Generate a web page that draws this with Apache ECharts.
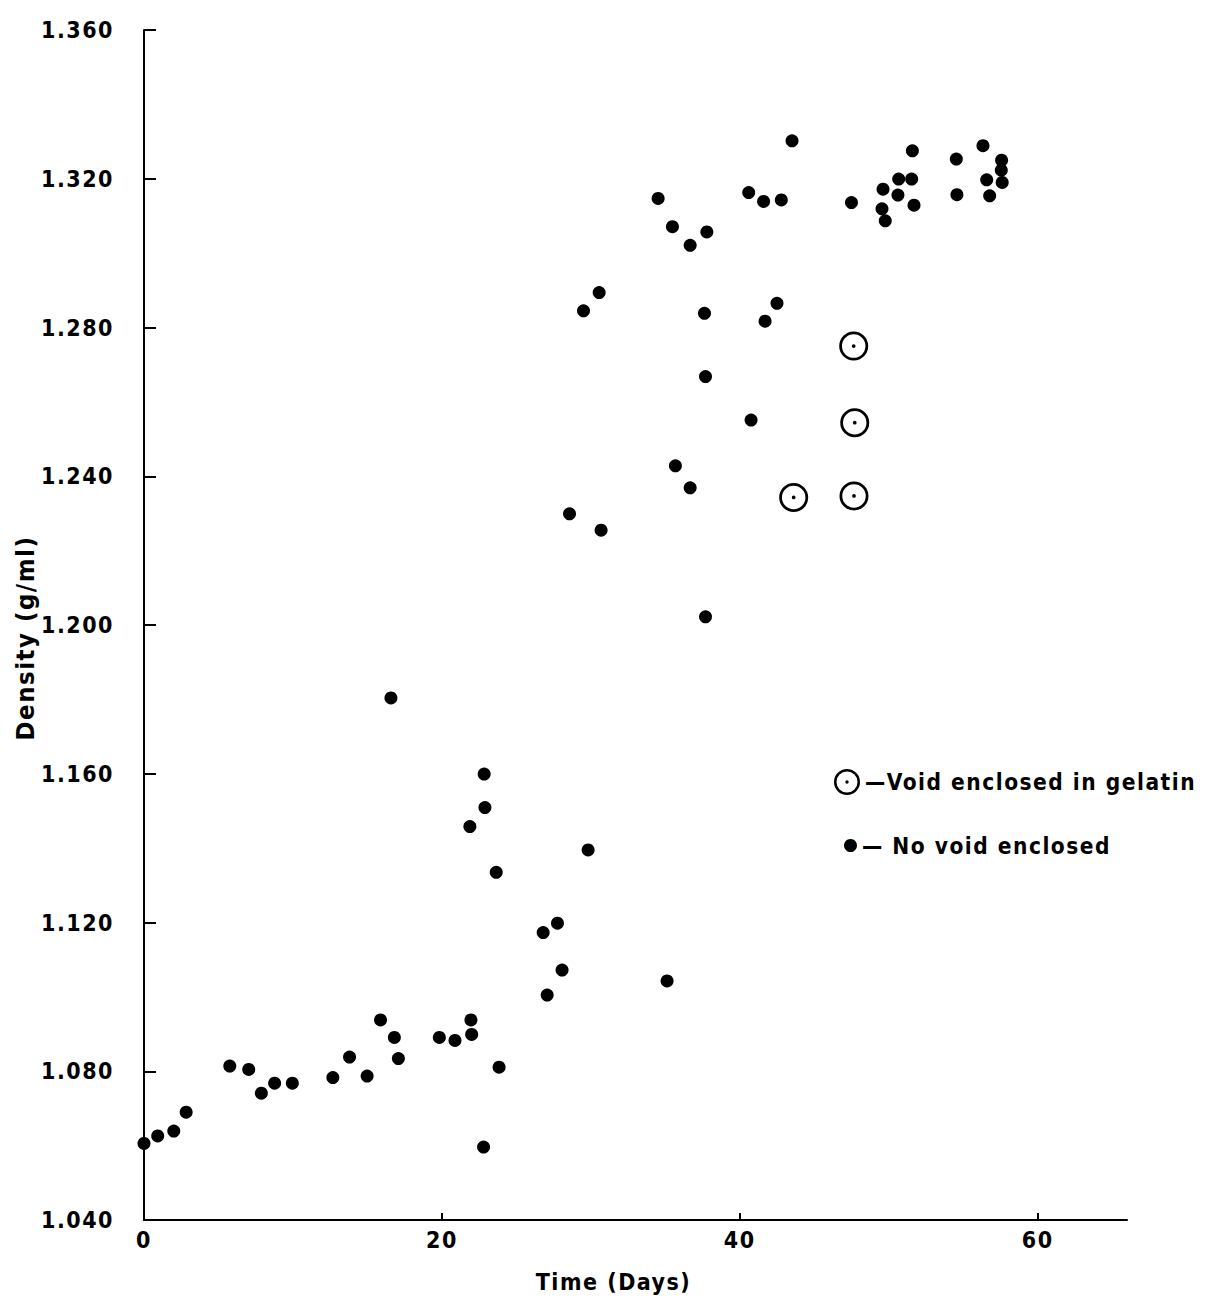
<!DOCTYPE html>
<html>
<head>
<meta charset="utf-8">
<script src="https://cdn.jsdelivr.net/npm/echarts@6/dist/echarts.min.js"></script>
<style>
  html, body { margin: 0; padding: 0; background: #fff; }
  #chart { width: 1208px; height: 1303px; letter-spacing: 1.5px; }
</style>
</head>
<body>
<div id="chart"></div>
<script>
// ---- data ----
const noVoidX = [0, 0.92, 2.0, 2.83, 5.76, 7.03, 7.88, 8.77, 9.96, 12.68, 13.8, 14.98, 15.88, 16.81, 17.08,
  16.58, 19.83, 20.88, 21.95, 22.0, 22.8, 23.84, 21.88, 22.84, 22.89, 23.65, 29.82, 27.76, 26.8, 28.07,
  27.07, 35.12, 28.57, 30.69, 29.51, 30.56, 34.52, 35.48, 36.67, 37.79, 37.63, 37.7, 37.7, 35.68, 36.67,
  40.76, 40.6, 41.6, 42.79, 43.51, 41.7, 42.5, 47.5, 49.62, 49.55, 49.77, 50.67, 50.62, 51.54, 51.59,
  51.7, 54.54, 54.58, 56.33, 56.58, 56.78, 57.58, 57.56, 57.62];
const noVoidY = [1.0606, 1.0626, 1.0639, 1.0690, 1.0814, 1.0805, 1.0741, 1.0768, 1.0768, 1.0783, 1.0838, 1.0787, 1.0938, 1.0891, 1.0834,
  1.1804, 1.0891, 1.0883, 1.0938, 1.0899, 1.0596, 1.0811, 1.1458, 1.1599, 1.1509, 1.1335, 1.1395, 1.1198, 1.1173, 1.1072,
  1.1005, 1.1043, 1.2299, 1.2255, 1.2845, 1.2894, 1.3147, 1.3071, 1.3021, 1.3057, 1.2838, 1.2668, 1.2022, 1.2428, 1.2369,
  1.2551, 1.3163, 1.3139, 1.3143, 1.3302, 1.2817, 1.2865, 1.3136, 1.3172, 1.3119, 1.3087, 1.3199, 1.3156, 1.3199, 1.3275,
  1.3129, 1.3253, 1.3157, 1.3289, 1.3197, 1.3154, 1.3250, 1.3223, 1.3190];
const voidX = [47.65, 47.72, 43.62, 47.67];
const voidY = [1.2750, 1.2544, 1.2343, 1.2347];
const xTickValues = [0, 20, 40, 60];
const yTickValues = [1.04, 1.08, 1.12, 1.16, 1.20, 1.24, 1.28, 1.32, 1.36];
const seriesNames = ['Void enclosed in gelatin', 'No void enclosed'];
const xTitle = 'Time (Days)';
const yTitle = 'Density (g/ml)';

// ---- chart ----
const FONT = '"DejaVu Sans Condensed", "Liberation Sans Narrow", sans-serif';
const txt = { color: '#000', fontFamily: FONT, fontWeight: 'bold', fontSize: 23 };
const ringDot = 'path://M0 10 A10 10 0 1 1 20 10 A10 10 0 1 1 0 10 Z ' +
  'M1.9 10 A8.1 8.1 0 1 0 18.1 10 A8.1 8.1 0 1 0 1.9 10 Z ' +
  'M8.7 10 A1.3 1.3 0 1 1 11.3 10 A1.3 1.3 0 1 1 8.7 10 Z';

const zip = (a, b) => a.map((v, i) => [v, b[i]]);

const chart = echarts.init(document.getElementById('chart'), null, { renderer: 'svg' });
chart.setOption({
  animation: false,
  backgroundColor: '#fff',
  grid: { left: 144, right: 81, top: 30, bottom: 83, containLabel: false, outerBoundsMode: 'none' },
  xAxis: {
    type: 'value', min: 0, max: 66, interval: 20,
    name: xTitle, nameLocation: 'middle', nameGap: 50,
    nameTextStyle: Object.assign({}, txt, { padding: [0, 44, 0, 0] }),
    axisLine: { show: true, lineStyle: { color: '#000', width: 2 } },
    axisTick: { show: true, inside: true, length: 7, customValues: xTickValues, lineStyle: { color: '#000', width: 2 } },
    axisLabel: Object.assign({ margin: 8, customValues: xTickValues }, txt),
    splitLine: { show: false }
  },
  yAxis: {
    type: 'value', min: 1.04, max: 1.36, interval: 0.04,
    name: yTitle, nameLocation: 'middle', nameGap: 105,
    nameTextStyle: Object.assign({}, txt, { fontSize: 25.5, padding: [0, 26, 0, 0] }),
    axisLine: { show: true, lineStyle: { color: '#000', width: 2 } },
    axisTick: { show: true, inside: true, length: 12, customValues: yTickValues, lineStyle: { color: '#000', width: 2 } },
    axisLabel: Object.assign({ margin: 30, customValues: yTickValues, formatter: v => v.toFixed(3) }, txt),
    splitLine: { show: false }
  },
  legend: [
    { data: [seriesNames[0]], left: 829, top: 764, itemWidth: 26, itemHeight: 26, formatter: '—{name}',
      textStyle: Object.assign({}, txt, { fontSize: 22.5 }), selectedMode: false },
    { data: [seriesNames[1]], left: 839, top: 829, itemWidth: 13, itemHeight: 13, formatter: '— {name}',
      textStyle: Object.assign({}, txt, { fontSize: 22.5 }), selectedMode: false }
  ],
  series: [
    { name: seriesNames[0], type: 'scatter', data: zip(voidX, voidY), symbol: ringDot, symbolSize: 29,
      itemStyle: { color: '#000', opacity: 1 }, emphasis: { disabled: true } },
    { name: seriesNames[1], type: 'scatter', data: zip(noVoidX, noVoidY), symbol: 'circle', symbolSize: 13,
      itemStyle: { color: '#000', opacity: 1 }, emphasis: { disabled: true } }
  ]
});
</script>
</body>
</html>
